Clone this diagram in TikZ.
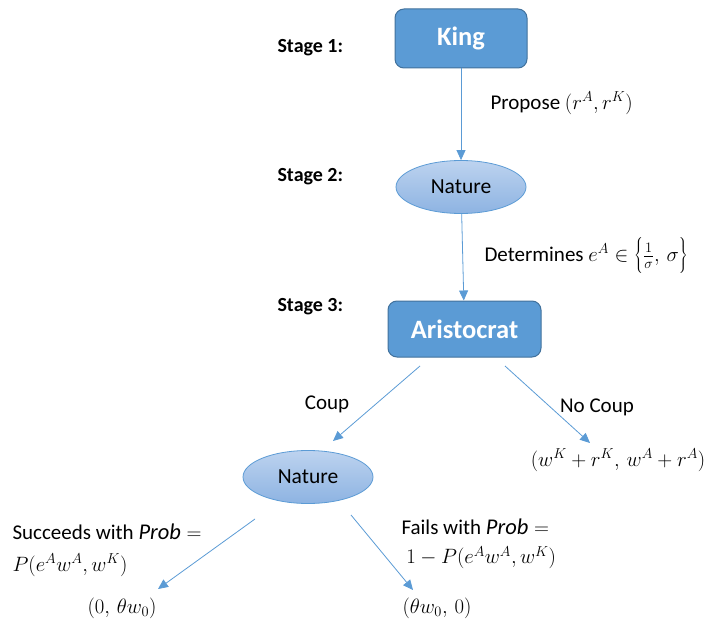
\documentclass[tikz,border=0pt]{standalone}
\usepackage{fontspec}
\setmainfont{Carlito}
\usetikzlibrary{arrows.meta,shapes.geometric}
\definecolor{boxfill}{HTML}{5B9BD5}
\definecolor{boxline}{HTML}{41719C}
\definecolor{nattop}{HTML}{BDD3EF}
\definecolor{natbot}{HTML}{8DB3E2}
\definecolor{arrcol}{HTML}{5B9BD5}
\newcommand\mth[1]{{\fontsize{22.5}{27}\selectfont$#1$}}
\tikzset{
  kbox/.style={draw=boxline, line width=1pt, fill=boxfill, rounded corners=9pt, text=white, font=\fontsize{26.5}{30}\selectfont\bfseries},
  natnode/.style={ellipse, draw=arrcol, line width=0.8pt, top color=nattop, bottom color=natbot, minimum width=130pt, minimum height=53pt, inner sep=0pt, font=\fontsize{21.5}{24}\selectfont},
  stagelbl/.style={font=\fontsize{20}{24}\selectfont\bfseries},
  lbl/.style={font=\fontsize{21}{27}\selectfont},
  arr/.style={draw=arrcol, line width=0.8pt, -{Triangle[width=9pt,length=10pt]}}
}
\begin{document}
\begin{tikzpicture}[x=1pt,y=-1pt]
\useasboundingbox (0,0) rectangle (712,631);
% nodes
\node[kbox, minimum width=132pt, minimum height=59pt] (king) at (461,38.5) {King};
\node[natnode] (nat1) at (461,187) {Nature};
\node[kbox, minimum width=153pt, minimum height=56pt] (aris) at (464.5,329) {Aristocrat};
\node[natnode] (nat2) at (308,477) {Nature};
% stage labels
\node[stagelbl, anchor=west] (s1) at (274,48) {Stage 1:};
\node[stagelbl, anchor=west] (s2) at (274,177) {Stage 2:};
\node[stagelbl, anchor=west] (s3) at (274,307) {Stage 3:};
% edge labels
\node[lbl, anchor=west] (prop) at (487,103) {Propose \mth{(r^A,r^K)}};
\node[lbl, anchor=west] (det) at (481,256) {Determines \mth{e^A\in\left\{\vrule height 19pt depth 13pt width 0pt{\textstyle\frac{1}{\sigma}},\,\sigma\right\}}};
\node[lbl] (coup) at (327,404) {Coup};
\node[lbl] (nocoup) at (597,407) {No Coup};
\node[lbl, anchor=west, align=left] (succ) at (9,550) {Succeeds with \mth{\mathit{Prob}=}\\[5pt]\mth{P(e^Aw^A,w^K)}};
\node[lbl, anchor=west, align=left] (fail) at (398,544) {Fails with \mth{\mathit{Prob}=}\\[2pt]\ \mth{1-P(e^Aw^A,w^K)}};
% payoffs
\node[lbl] (pay1) at (618,460) {\mth{(w^K+r^K,\,w^A+r^A)}};
\node[lbl] (pay2) at (122,608) {\mth{(0,\,\theta w_0)}};
\node[lbl] (pay3) at (437,608) {\mth{(\theta w_0,\,0)}};
% connector ends
\coordinate (cs) at (420,366);
\coordinate (ce) at (333,441);
\coordinate (ns) at (505,366);
\coordinate (ne) at (590,443);
\coordinate (ss) at (255,519);
\coordinate (se) at (158,589);
\coordinate (fs) at (351,515);
\coordinate (fe) at (413,590);
% connectors
\draw[arr] (king) -- (nat1);
\draw[arr] (nat1) -- (aris);
\draw[arr] (cs) -- (ce);
\draw[arr] (ns) -- (ne);
\draw[arr] (ss) -- (se);
\draw[arr] (fs) -- (fe);
\end{tikzpicture}
\end{document}
